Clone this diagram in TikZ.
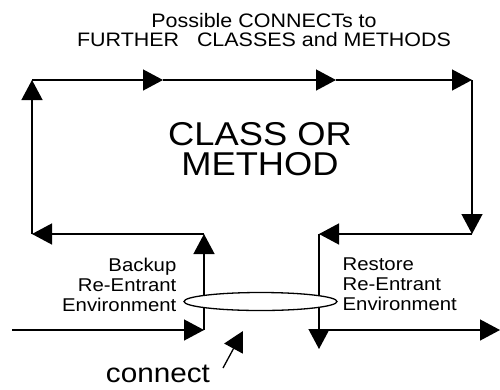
\documentclass[tikz,border=0pt]{standalone}
\usepackage{fontspec}
\setmainfont[FakeStretch=1.1]{Liberation Sans}
\usetikzlibrary{arrows.meta,shapes.geometric}
\begin{document}
\begin{tikzpicture}[x=1pt,y=-1pt,line width=1.3pt,
  conn/.style={-{Triangle[length=20pt,width=21pt]}},
  lbl/.style={inner sep=0pt,font=\fontsize{18.5}{20}\selectfont}]
\useasboundingbox (0,0) rectangle (500,389);
% corner points
\coordinate (tl) at (32,80);
\coordinate (t1) at (163,80);
\coordinate (t2) at (336,80);
\coordinate (tr) at (472,80);
\coordinate (rr) at (472,234);
\coordinate (ri) at (319,234);
\coordinate (rb) at (319,349);
\coordinate (ro) at (319,330);
\coordinate (exit) at (500,330);
\coordinate (entry) at (12,330);
\coordinate (li) at (204,330);
\coordinate (lt) at (204,234);
\coordinate (ll) at (32,234);
\coordinate (ctail) at (223,368);
\coordinate (ctip) at (243,331);
% texts
\node[inner sep=0pt,anchor=north,align=center,font=\fontsize{19.5}{19}\selectfont] (top) at (264,12.5)
  {Possible CONNECTs to\\FURTHER\ \ \ CLASSES and METHODS};
\node[inner sep=0pt,anchor=north,align=center,font=\fontsize{33}{30}\selectfont] (cm) at (260,122)
  {CLASS OR\\METHOD};
\node[lbl,anchor=north east,align=right] (backup) at (177,257) {Backup\\Re-Entrant\\Environment};
\node[lbl,anchor=north west,align=left] (restore) at (342,257) {Restore\\Re-Entrant\\Environment};
\node[inner sep=0pt,anchor=base,font=\fontsize{27}{30}\selectfont] (connect) at (158,382) {connect};
% connectors
\draw[conn] (ll) -- (tl);
\draw[conn] (tl) -- (t1);
\draw[conn] (t1) -- (t2);
\draw[conn] (t2) -- (tr);
\draw[conn] (tr) -- (rr);
\draw[conn] (rr) -- (ri);
\draw[conn] (ri) -- (rb);
\draw[conn] (ro) -- (exit);
\draw[conn] (entry) -- (li);
\draw[conn] (li) -- (lt);
\draw[conn] (lt) -- (ll);
\draw[conn] (ctail) -- (ctip);
% ellipse (white filled, over the lines)
\node[draw,fill=white,ellipse,minimum width=153pt,minimum height=18pt,inner sep=0pt] (env) at (260.5,301.5) {};
\end{tikzpicture}
\end{document}
